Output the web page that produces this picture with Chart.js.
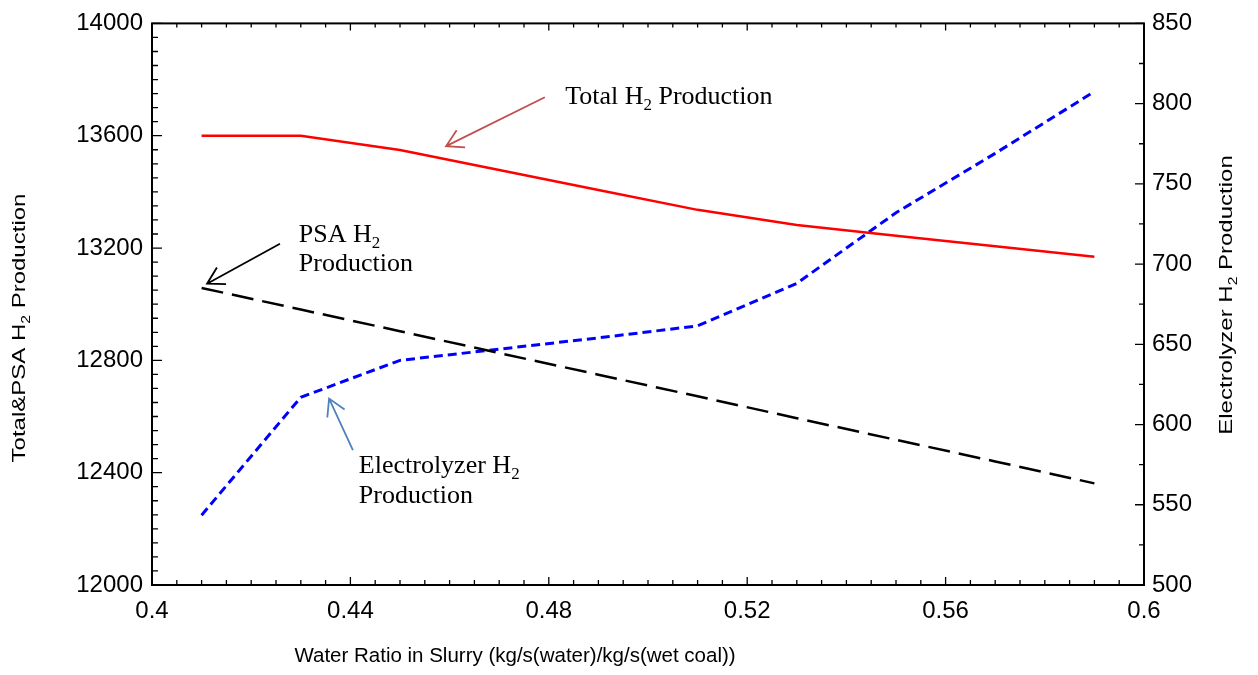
<!DOCTYPE html>
<html>
<head>
<meta charset="utf-8">
<script src="https://cdn.jsdelivr.net/npm/chart.js@4"></script>
<style>
  html, body { margin: 0; padding: 0; background: #fff; }
  #wrap { width: 1258px; height: 675px; position: relative; }
</style>
</head>
<body>
<div id="wrap"><canvas id="h2Chart"></canvas></div>
<script>
// water ratio in the slurry, kg/s(water)/kg/s(wet coal)
const waterRatio = [0.41, 0.43, 0.45, 0.47, 0.49, 0.51, 0.53, 0.55, 0.57, 0.59];
// left axis
const totalH2 = [13600, 13600, 13549, 13478, 13407, 13336, 13282, 13244, 13206, 13169];
const psaH2 = [13058, 12981, 12904, 12826, 12749, 12672, 12594, 12517, 12440, 12362];
// right axis
const electrolyzerH2 = [543.5, 617, 640, 647, 654, 661.5, 688, 732, 769, 807.5];

const xTickLabels = ['0.4', '0.44', '0.48', '0.52', '0.56', '0.6'];
const leftTickLabels = ['12000', '12400', '12800', '13200', '13600', '14000'];
const rightTickLabels = ['500', '550', '600', '650', '700', '750', '800', '850'];

const pairs = (xs, ys) => xs.map((x, i) => ({ x: x, y: ys[i] }));

const sans = '"Liberation Sans", Arial, sans-serif';
const serif = '"Liberation Serif", "Times New Roman", serif';

// text with an "H2"-style subscript: parts = [[text, isSub], ...]
function richWidth(ctx, parts, size, family) {
  let w = 0;
  parts.forEach(([t, sub]) => {
    ctx.font = (sub ? size * 0.65 : size) + 'px ' + family;
    w += ctx.measureText(t).width;
  });
  return w;
}
function drawRich(ctx, parts, x, y, size, family) {
  parts.forEach(([t, sub]) => {
    ctx.font = (sub ? size * 0.65 : size) + 'px ' + family;
    ctx.fillText(t, x, sub ? y + size * 0.22 : y);
    x += ctx.measureText(t).width;
  });
}

function arrow(ctx, x1, y1, x2, y2, color) {
  const ang = Math.atan2(y1 - y2, x1 - x2);
  const len = 19, spread = Math.PI / 6;
  ctx.strokeStyle = color;
  ctx.lineWidth = 1.8;
  ctx.beginPath();
  ctx.moveTo(x1, y1);
  ctx.lineTo(x2, y2);
  ctx.moveTo(x2 + len * Math.cos(ang - spread), y2 + len * Math.sin(ang - spread));
  ctx.lineTo(x2, y2);
  ctx.lineTo(x2 + len * Math.cos(ang + spread), y2 + len * Math.sin(ang + spread));
  ctx.stroke();
}

// frame with inward minor/major ticks, axis titles and the callouts
const framePlugin = {
  id: 'frame',
  afterDraw(chart) {
    const { ctx, chartArea: a, scales: { x, y, y1 } } = chart;
    ctx.save();
    ctx.strokeStyle = '#000';
    ctx.lineWidth = 1.3;
    ctx.beginPath();
    for (let i = 0; i <= 40; i++) {
      const px = x.getPixelForValue(0.4 + i * 0.005);
      const major = i % 8 === 0;
      ctx.moveTo(px, a.bottom); ctx.lineTo(px, a.bottom - (major ? 8 : 5));
      ctx.moveTo(px, a.top); ctx.lineTo(px, a.top + (major ? 7 : 4));
    }
    for (let i = 0; i <= 40; i++) {
      const py = y.getPixelForValue(12000 + i * 50);
      ctx.moveTo(a.left, py); ctx.lineTo(a.left + (i % 8 === 0 ? 10 : 6), py);
    }
    for (let i = 0; i <= 14; i++) {
      const py = y1.getPixelForValue(500 + i * 25);
      ctx.moveTo(a.right, py); ctx.lineTo(a.right - (i % 2 === 0 ? 9 : 5), py);
    }
    ctx.stroke();
    ctx.lineWidth = 2;
    ctx.strokeRect(a.left, a.top, a.right - a.left, a.bottom - a.top);

    // axis titles
    ctx.fillStyle = '#000';
    ctx.textBaseline = 'alphabetic';
    ctx.font = '20.5px ' + sans;
    ctx.textAlign = 'center';
    ctx.fillText('Water Ratio in Slurry (kg/s(water)/kg/s(wet coal))', 515, 662);
    ctx.textAlign = 'left';

    const vTitle = (parts, cx, cy) => {
      ctx.save();
      ctx.translate(cx, cy);
      ctx.rotate(-Math.PI / 2);
      ctx.scale(1, 0.8);
      const w = richWidth(ctx, parts, 24, sans);
      drawRich(ctx, parts, -w / 2, 8, 24, sans);
      ctx.restore();
    };
    vTitle([['Total&PSA H', false], ['2', true], [' Production', false]], 19, 328);
    vTitle([['Electrolyzer H', false], ['2', true], [' Production', false]], 1226, 295);

    // callouts
    const X = v => x.getPixelForValue(v), Y = v => y.getPixelForValue(v);
    drawRich(ctx, [['Total H', false], ['2', true], [' Production', false]], X(0.4833), Y(13712), 26, serif);
    arrow(ctx, X(0.4792), Y(13737), X(0.4593), Y(13563), '#c0504d');

    drawRich(ctx, [['PSA H', false], ['2', true]], X(0.4296), Y(13222), 26, serif);
    drawRich(ctx, [['Production', false]], X(0.4296), Y(13222) + 29, 26, serif);
    arrow(ctx, X(0.4258), Y(13215), X(0.4111), Y(13073), '#000');

    drawRich(ctx, [['Electrolyzer H', false], ['2', true]], X(0.4417), Y(12398), 26, serif);
    drawRich(ctx, [['Production', false]], X(0.4417), Y(12398) + 30, 26, serif);
    arrow(ctx, X(0.4405), Y(12480), X(0.4357), Y(12664), '#4f81bd');
    ctx.restore();
  }
};

const tickFont = { family: sans, size: 24 };
const noGrid = { display: false, drawTicks: false };

new Chart(document.getElementById('h2Chart'), {
  type: 'line',
  data: {
    datasets: [
      {
        label: 'Total H2 Production',
        data: pairs(waterRatio, totalH2),
        borderColor: '#ff0000',
        borderWidth: 2.5,
        yAxisID: 'y'
      },
      {
        label: 'PSA H2 Production',
        data: pairs(waterRatio, psaH2),
        borderColor: '#000000',
        borderWidth: 2.5,
        borderDash: [22, 9],
        yAxisID: 'y'
      },
      {
        label: 'Electrolyzer H2 Production',
        data: pairs(waterRatio, electrolyzerH2),
        borderColor: '#0000ff',
        borderWidth: 3,
        borderDash: [9, 5],
        yAxisID: 'y1'
      }
    ]
  },
  options: {
    responsive: true,
    maintainAspectRatio: false,
    animation: false,
    layout: { padding: { top: 22, right: 0, left: 0, bottom: 0 } },
    elements: { point: { radius: 0 }, line: { tension: 0 } },
    plugins: { legend: { display: false }, tooltip: { enabled: false } },
    scales: {
      x: {
        type: 'linear',
        min: 0.4,
        max: 0.6,
        grid: noGrid,
        border: { display: false },
        ticks: {
          stepSize: 0.04,
          color: '#000',
          font: tickFont,
          padding: 12,
          maxRotation: 0,
          callback: (v, i) => xTickLabels[i]
        },
        afterFit: s => { s.height = 90; }
      },
      y: {
        position: 'left',
        min: 12000,
        max: 14000,
        grid: noGrid,
        border: { display: false },
        ticks: {
          stepSize: 400,
          color: '#000',
          font: tickFont,
          padding: 9,
          callback: (v, i) => leftTickLabels[i]
        },
        afterFit: s => { s.width = 152; }
      },
      y1: {
        position: 'right',
        min: 500,
        max: 850,
        grid: noGrid,
        border: { display: false },
        ticks: {
          stepSize: 50,
          color: '#000',
          font: tickFont,
          padding: 8,
          callback: (v, i) => rightTickLabels[i]
        },
        afterFit: s => { s.width = 114; }
      }
    }
  },
  plugins: [framePlugin]
});
</script>
</body>
</html>
